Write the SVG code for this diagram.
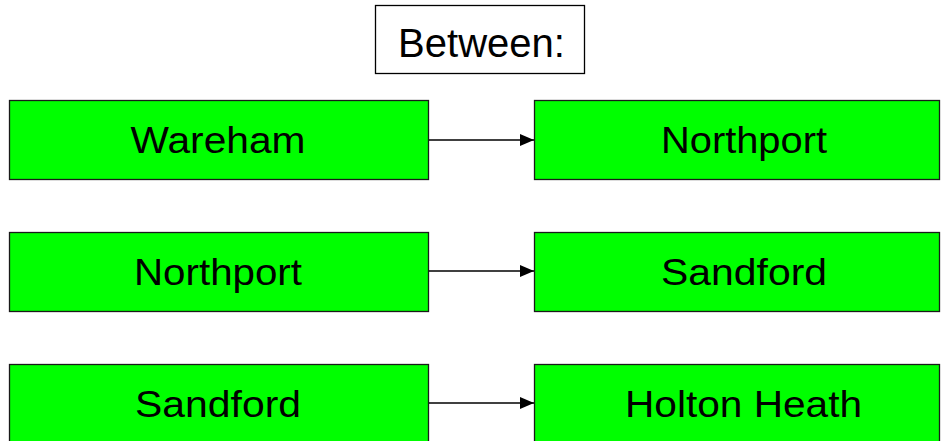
<svg xmlns="http://www.w3.org/2000/svg" width="943" height="441" viewBox="0 0 943 441">
  <style>
    .title { fill: #ffffff; stroke: #000000; stroke-width: 1.3; }
    .stop { fill: #00ff00; stroke: #1a1a1a; stroke-width: 1.3; }
    .label { font-family: "Liberation Sans", Arial, sans-serif; fill: #000000; text-anchor: middle; }
    .big { font-size: 40px; }
    .name { font-size: 36px; }
    .link { stroke: #000000; stroke-width: 1.3; fill: none; marker-end: url(#head); }
  </style>
  <defs>
    <marker id="head" viewBox="0 0 14 12" refX="14" refY="6" markerWidth="14" markerHeight="12" markerUnits="userSpaceOnUse" orient="auto">
      <path d="M0,0 L14,6 L0,12 Z" fill="#000000"/>
    </marker>
  </defs>

  <rect width="943" height="441" fill="#ffffff"/>

  <g id="title">
    <rect class="title" x="375.5" y="5.5" width="209" height="68"/>
    <text class="label big" x="481.5" y="56.5">Between:</text>
  </g>

  <g id="wareham">
    <rect class="stop" x="9.5" y="100.5" width="419" height="79"/>
    <text class="label name" x="218" y="153.3" textLength="175" lengthAdjust="spacingAndGlyphs">Wareham</text>
  </g>
  <g id="northport-1">
    <rect class="stop" x="534.5" y="100.5" width="405" height="79"/>
    <text class="label name" x="744" y="153.3" textLength="166" lengthAdjust="spacingAndGlyphs">Northport</text>
  </g>

  <g id="northport-2">
    <rect class="stop" x="9.5" y="232.5" width="419" height="79"/>
    <text class="label name" x="218" y="285.3" textLength="168" lengthAdjust="spacingAndGlyphs">Northport</text>
  </g>
  <g id="sandford-1">
    <rect class="stop" x="534.5" y="232.5" width="405" height="79"/>
    <text class="label name" x="744" y="285.3" textLength="166" lengthAdjust="spacingAndGlyphs">Sandford</text>
  </g>

  <g id="sandford-2">
    <rect class="stop" x="9.5" y="364.5" width="419" height="79"/>
    <text class="label name" x="218" y="417.3" textLength="166" lengthAdjust="spacingAndGlyphs">Sandford</text>
  </g>
  <g id="holton-heath">
    <rect class="stop" x="534.5" y="364.5" width="405" height="79"/>
    <text class="label name" x="743.5" y="417.3" textLength="237" lengthAdjust="spacingAndGlyphs">Holton Heath</text>
  </g>

  <g id="connectors">
    <line class="link" x1="429" y1="140" x2="534" y2="140"/>
    <line class="link" x1="429" y1="271" x2="534" y2="271"/>
    <line class="link" x1="429" y1="403" x2="534" y2="403"/>
  </g>
</svg>
